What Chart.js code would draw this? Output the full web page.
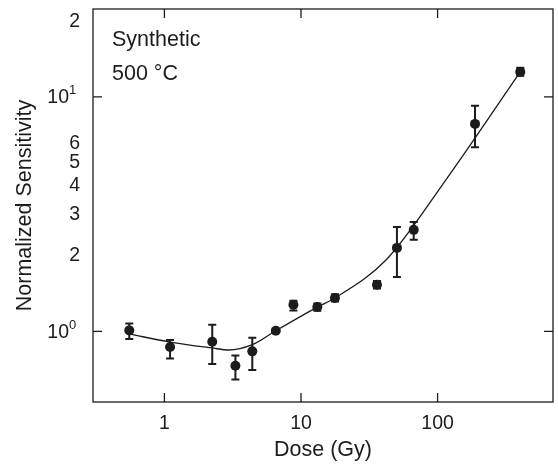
<!DOCTYPE html>
<html>
<head>
<meta charset="utf-8">
<script src="https://cdn.jsdelivr.net/npm/chart.js@4.4.0/dist/chart.umd.min.js"></script>
<style>
  body { margin: 0; background: #fff; }
  #wrap { width: 558px; height: 465px; }
</style>
</head>
<body>
<div id="wrap"><canvas id="chart" width="558" height="465"></canvas></div>
<script>
// Measured points: dose (Gy) vs normalized sensitivity
const doses   = [0.553, 1.10, 2.24, 3.31, 4.40, 6.54, 8.80, 13.17, 17.72, 36.0, 50.4, 66.9, 188, 403];
const sens    = [1.01, 0.858, 0.904, 0.714, 0.822, 1.007, 1.30, 1.27, 1.388, 1.58, 2.27, 2.71, 7.67, 12.78];
const errLow  = [0.928, 0.767, 0.726, 0.623, 0.685, null, 1.229, 1.225, 1.34, 1.525, 1.705, 2.46, 6.10, 12.3];
const errHigh = [1.08, 0.919, 1.068, 0.79, 0.94, null, 1.351, 1.315, 1.44, 1.64, 2.785, 2.925, 9.16, 13.3];

// Fitted curve
const fitDose = [0.553, 1.10, 2.225, 2.96, 4.40, 6.54, 13.17, 17.72, 42.1, 115.1, 403];
const fitSens = [0.975, 0.901, 0.850, 0.833, 0.878, 1.007, 1.27, 1.388, 2.02, 4.43, 12.78];

// Axis ticks
const xTicks = [1, 10, 100];
const yMajor = [1, 10];
const yMajorExp = ['0', '1'];
const yMinor = [2, 3, 4, 5, 6, 20];
const yMinorLabels = ['2', '3', '4', '5', '6', '2'];

const FONT = '"Liberation Sans", Arial, Helvetica, sans-serif';
const INK = '#1c1c1c';

// error bars under the markers
const errorBars = {
  id: 'errorBars',
  beforeDatasetsDraw(chart) {
    const {ctx, scales: {x, y}} = chart;
    ctx.save();
    ctx.strokeStyle = INK;
    ctx.lineWidth = 2;
    doses.forEach((d, i) => {
      if (errLow[i] == null) return;
      const px = x.getPixelForValue(d);
      const lo = y.getPixelForValue(errLow[i]);
      const hi = y.getPixelForValue(errHigh[i]);
      ctx.beginPath();
      ctx.moveTo(px, lo); ctx.lineTo(px, hi);
      ctx.moveTo(px - 4, lo); ctx.lineTo(px + 4, lo);
      ctx.moveTo(px - 4, hi); ctx.lineTo(px + 4, hi);
      ctx.stroke();
    });
    ctx.restore();
  }
};

// box, inward ticks, y labels with exponents, annotation
const frame = {
  id: 'frame',
  afterDraw(chart) {
    const {ctx, chartArea: a, scales: {x, y}} = chart;
    ctx.save();
    ctx.strokeStyle = INK;
    ctx.lineWidth = 1.3;
    ctx.strokeRect(a.left, a.top, a.right - a.left, a.bottom - a.top);
    ctx.beginPath();
    xTicks.forEach(v => {
      const px = x.getPixelForValue(v);
      ctx.moveTo(px, a.bottom); ctx.lineTo(px, a.bottom - 9);
      ctx.moveTo(px, a.top); ctx.lineTo(px, a.top + 9);
    });
    yMajor.forEach(v => {
      const py = y.getPixelForValue(v);
      ctx.moveTo(a.left, py); ctx.lineTo(a.left + 9, py);
      ctx.moveTo(a.right, py); ctx.lineTo(a.right - 9, py);
    });
    ctx.stroke();

    ctx.fillStyle = INK;
    ctx.textBaseline = 'middle';
    ctx.textAlign = 'right';
    ctx.font = '19.5px ' + FONT;
    yMinor.forEach((v, i) => {
      ctx.fillText(yMinorLabels[i], a.left - 13, y.getPixelForValue(v) - 5);
    });
    yMajor.forEach((v, i) => {
      const py = y.getPixelForValue(v);
      ctx.font = '19.5px ' + FONT;
      ctx.textAlign = 'right';
      ctx.fillText('10', a.left - 24, py + 1);
      ctx.font = '13px ' + FONT;
      ctx.textAlign = 'left';
      ctx.fillText(yMajorExp[i], a.left - 24, py - 6);
    });

    ctx.font = '21.5px ' + FONT;
    ctx.textAlign = 'left';
    ctx.textBaseline = 'alphabetic';
    ctx.fillText('Synthetic', a.left + 19, a.top + 37);
    ctx.fillText('500 \u00B0C', a.left + 19, a.top + 71);
    ctx.restore();
  }
};

new Chart(document.getElementById('chart'), {
  type: 'line',
  data: {
    datasets: [
      {
        label: 'Measured',
        data: doses.map((d, i) => ({x: d, y: sens[i]})),
        showLine: false,
        pointRadius: 5,
        pointHoverRadius: 5,
        pointBackgroundColor: INK,
        pointBorderWidth: 0,
        order: 0
      },
      {
        label: 'Fit',
        data: fitDose.map((d, i) => ({x: d, y: fitSens[i]})),
        borderColor: INK,
        borderWidth: 1.3,
        pointRadius: 0,
        cubicInterpolationMode: 'monotone',
        order: 1
      }
    ]
  },
  options: {
    responsive: false,
    animation: false,
    layout: { padding: { top: 9, right: 2, left: 0, bottom: 0 } },
    plugins: { legend: { display: false }, tooltip: { enabled: false } },
    scales: {
      x: {
        type: 'logarithmic',
        min: 0.3,
        max: 700,
        afterBuildTicks: s => { s.ticks = xTicks.map(v => ({value: v})); },
        afterFit: s => { s.height = 63; },
        grid: { display: false, drawTicks: false },
        border: { display: false },
        ticks: {
          padding: 10,
          color: INK,
          font: { family: FONT, size: 19.5 },
          maxRotation: 0,
          callback: v => String(v)
        },
        title: {
          display: true,
          text: 'Dose (Gy)',
          color: INK,
          font: { family: FONT, size: 21.5 },
          padding: { top: 0, bottom: 2 }
        }
      },
      y: {
        type: 'logarithmic',
        min: 0.5,
        max: 23.7,
        afterFit: s => { s.width = 93; },
        grid: { display: false, drawTicks: false },
        border: { display: false },
        ticks: { display: false },
        title: {
          display: true,
          text: 'Normalized Sensitivity',
          color: INK,
          font: { family: FONT, size: 21.5 },
          padding: { top: 12, bottom: 0 }
        }
      }
    }
  },
  plugins: [errorBars, frame]
});
</script>
</body>
</html>
